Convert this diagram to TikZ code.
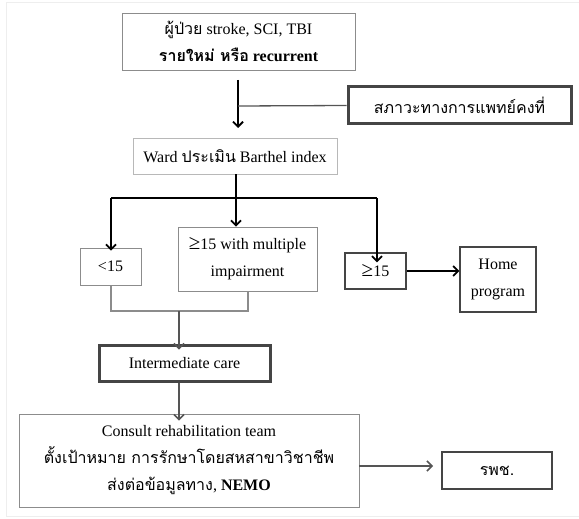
\documentclass[tikz,border=0pt]{standalone}
\usepackage{fontspec}
\setmainfont{Liberation Serif}
\newfontfamily\thaifont[Script=Thai]{Loma}
\newcommand\thx[1]{{\thaifont #1}}
\newcommand\gesign{{\fontsize{21}{27}\selectfont ≥}}
\usetikzlibrary{arrows.meta}
\definecolor{lgray}{HTML}{B8B8B8}
\definecolor{mgray}{HTML}{8C8C8C}
\definecolor{dgray}{HTML}{454545}
\definecolor{agray}{HTML}{555555}
\definecolor{fgray}{HTML}{EEEEEE}
\begin{document}
\begin{tikzpicture}[x=1pt,y=-1pt,
  every node/.style={inner sep=0pt, align=center, font=\fontsize{16}{27}\selectfont},
  thinbox/.style={draw=mgray, line width=0.9pt},
  lightbox/.style={draw=lgray, line width=0.9pt},
  midbox/.style={draw=dgray, line width=1.4pt},
  heavybox/.style={draw=dgray, line width=3pt},
  blackarrow/.style={draw=black, line width=1.8pt, -{Straight Barb[length=5pt,width=10pt]}},
  blackline/.style={draw=black, line width=1.8pt},
  grayarrow/.style={draw=agray, line width=1.5pt, -{Straight Barb[length=5pt,width=10pt]}},
  grayline/.style={draw=agray, line width=1.3pt},
  mergeline/.style={draw=mgray, line width=1.2pt}]
\useasboundingbox (0,0) rectangle (579,519);
\draw[fgray, line width=0.8pt] (6,2) -- (579,2);
\draw[fgray, line width=0.8pt] (6,2) -- (6,516) -- (579,516);

\node[thinbox, minimum width=233pt, minimum height=57pt] (pt) at (238.5,41.5)
  {\thx{ผู้ป่วย} stroke, SCI, TBI\\ \textbf{\thx{รายใหม่ หรือ} recurrent}};
\node[heavybox, minimum width=223pt, minimum height=37pt] (stable) at (459.5,105.5)
  {\thx{สภาวะทางการแพทย์คงที่}};
\node[lightbox, minimum width=204pt, minimum height=36pt] (ward) at (235,156)
  {Ward \thx{ประเมิน} Barthel index};
\node[thinbox, minimum width=61pt, minimum height=37pt] (lt) at (110.5,266.5) {<15};
\node[thinbox, minimum width=139pt, minimum height=64pt] (multi) at (247.5,259)
  {\gesign15 with multiple\\ impairment};
\node[midbox, minimum width=61pt, minimum height=36pt] (ge) at (375.5,271) {\gesign15};
\node[thinbox, draw=dgray, line width=1.1pt, minimum width=76pt, minimum height=65pt] (home) at (498,279.5)
  {Home\\ program};
\node[heavybox, minimum width=171pt, minimum height=36pt] (inter) at (184.5,363)
  {Intermediate care};
\node[thinbox, minimum width=340pt, minimum height=93pt] (consult) at (189,460.5)
  {Consult rehabilitation team\\ \thx{ตั้งเป้าหมาย การรักษาโดยสหสาขาวิชาชีพ}\\ \thx{ส่งต่อข้อมูลทาง}, \textbf{NEMO}};
\node[midbox, line width=2pt, minimum width=110pt, minimum height=37pt] (rps) at (497,470.5)
  {\thx{รพช.}};

% top arrow and side line
\coordinate (t0) at (238,80);
\coordinate (t1) at (238,106);
\coordinate (t2) at (238,128);
\draw[blackarrow] (t0) -- (t2);
\draw[grayline] (t1) -- (stable.west);

% branching from ward
\coordinate (b0) at (236,198);
\coordinate (bl) at (111,198);
\coordinate (br) at (377,198);
\draw[blackarrow] (ward.south -| b0) -- (b0 |- multi.north);
\draw[blackline] (bl) -- (br);
\draw[blackarrow] (bl) -- ([yshift=-3pt]bl |- lt.north);
\draw[blackarrow] (br) -- ([yshift=-10pt]br |- ge.north);
\draw[blackarrow] (ge.east) -- (home.west |- ge.east);

% merge
\coordinate (m0) at (111,311);
\coordinate (m1) at (248,311);
\coordinate (mc) at (179,311);
\draw[mergeline] (lt.south -| m0) -- (m0) -- (m1) -- (m1 |- multi.south);
\draw[grayarrow] (mc) -- ([yshift=-6pt]mc |- inter.north);
\draw[grayarrow] (mc |- inter.south) -- ([yshift=-7pt]mc |- consult.north);

% consult to rps
\coordinate (c0) at (359,466);
\draw[grayarrow] (c0) -- ([xshift=-8pt]rps.west |- c0);
\end{tikzpicture}
\end{document}
